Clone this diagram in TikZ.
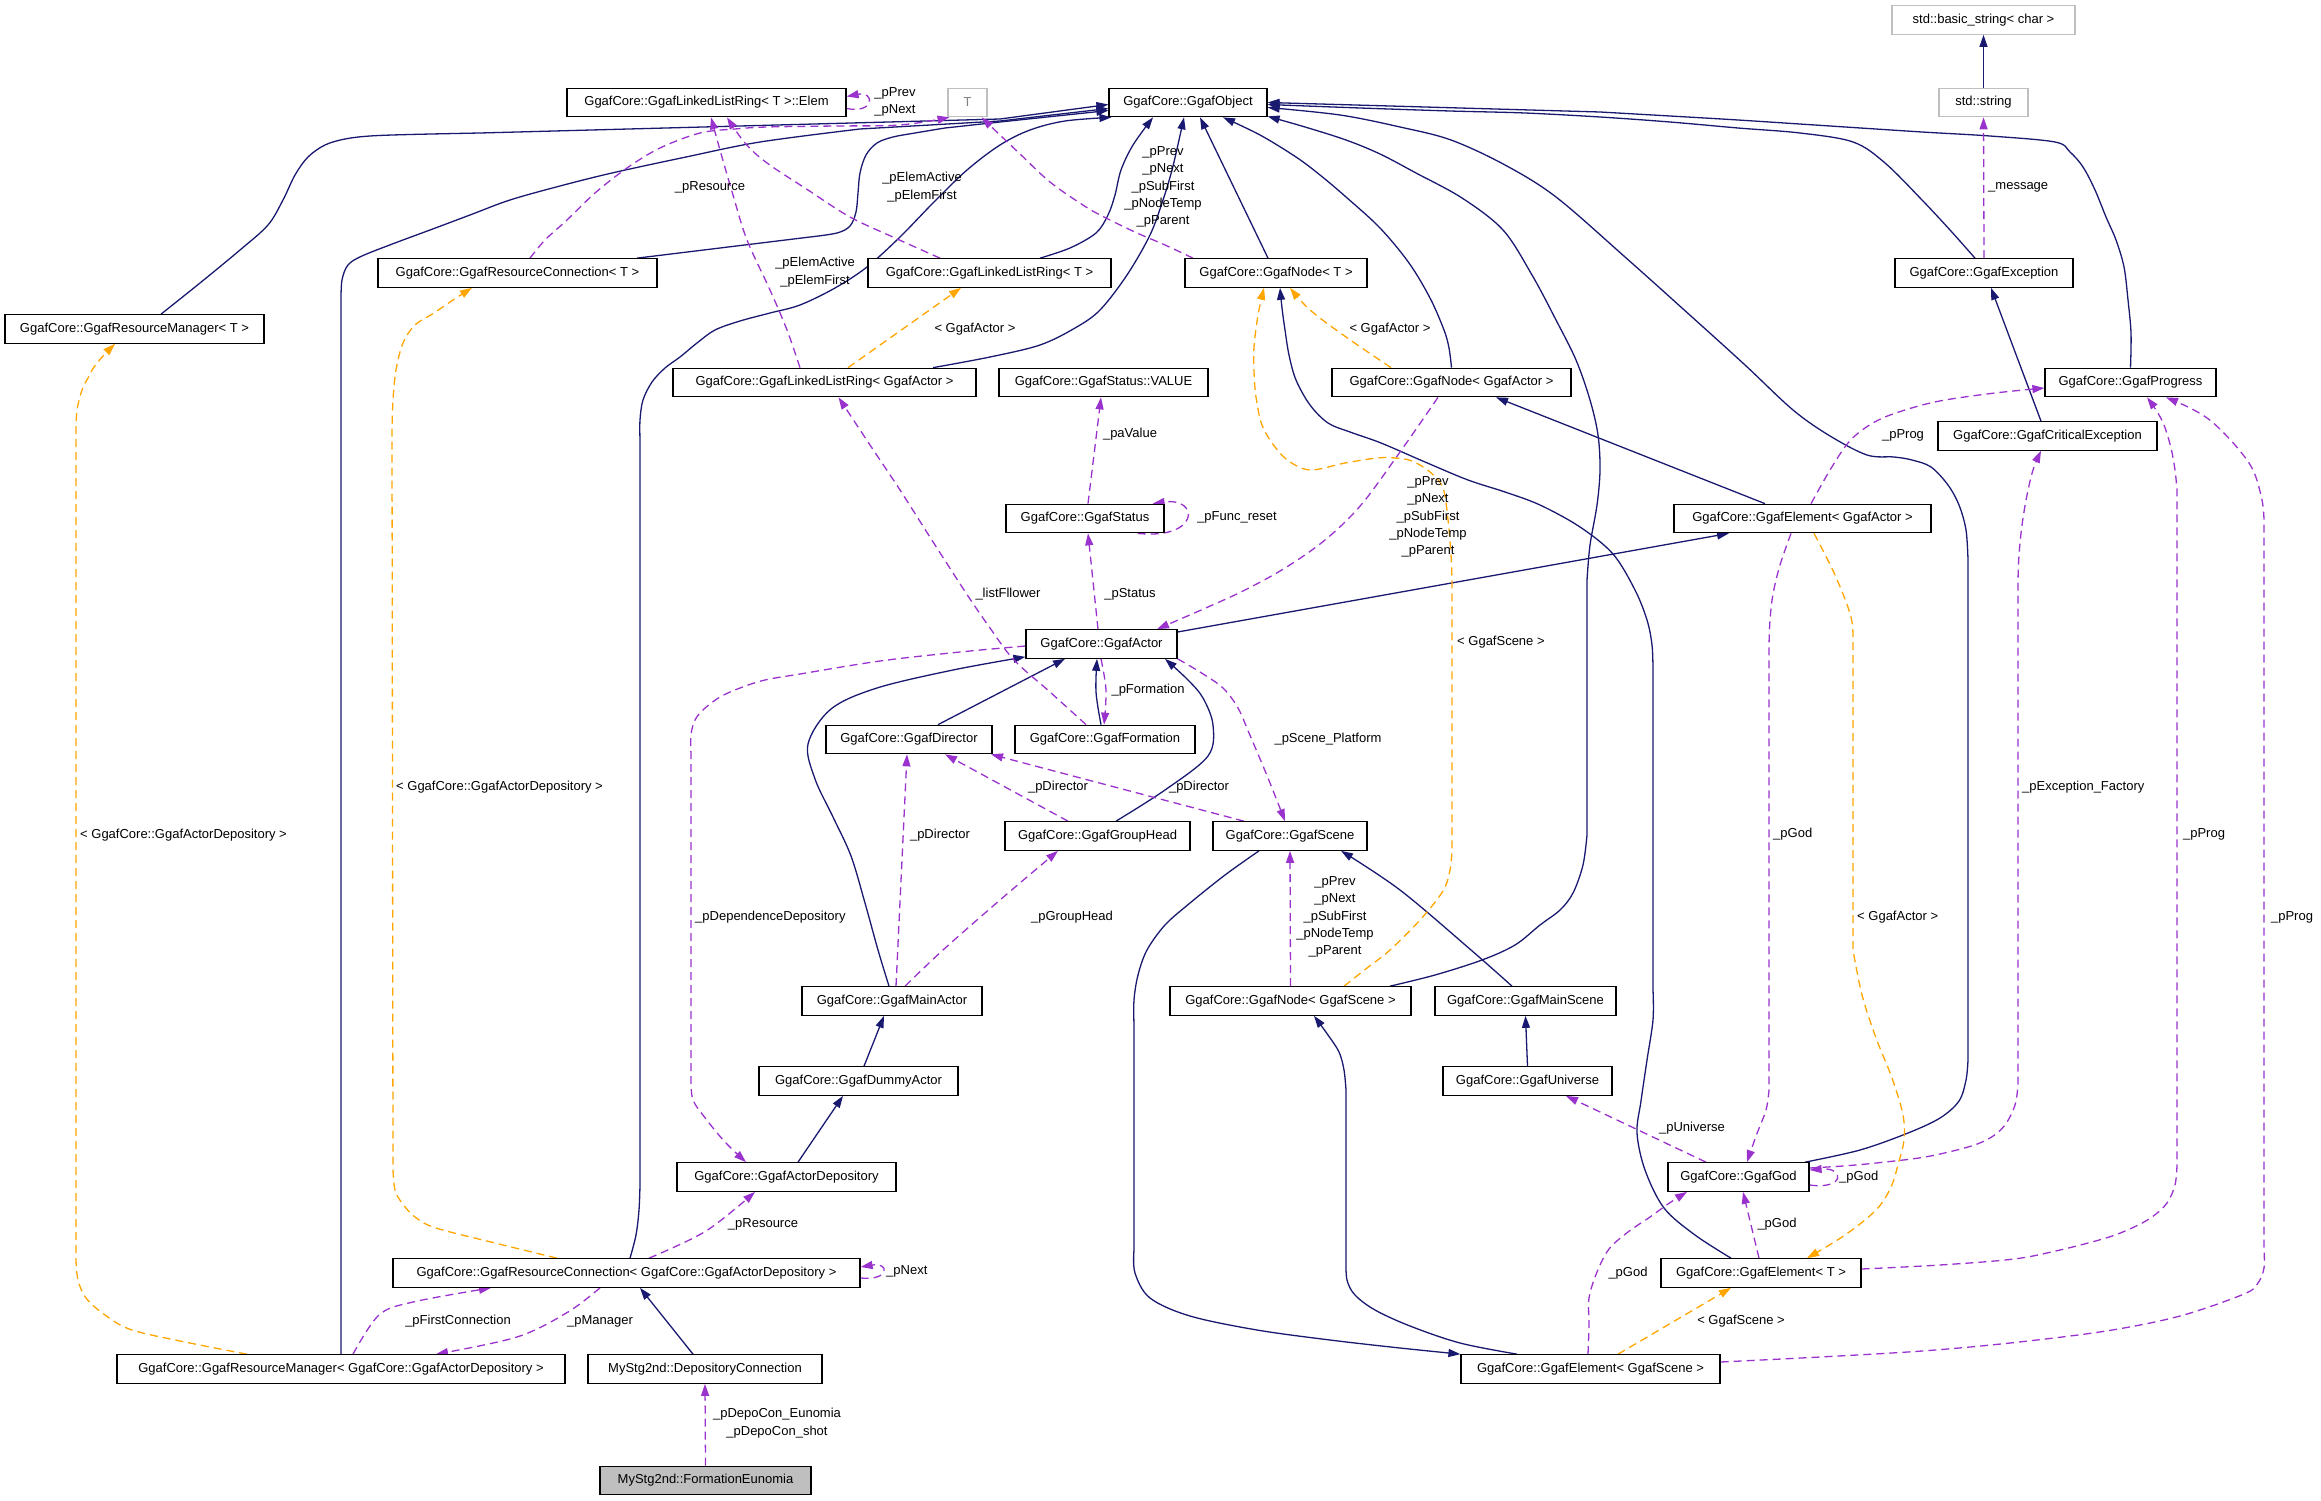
\documentclass[tikz,border=0pt]{standalone}
\usepackage{fontspec}
\setmainfont{Liberation Sans}
\usetikzlibrary{arrows.meta}
\definecolor{inhc}{HTML}{191970}
\definecolor{usec}{HTML}{9A32CD}
\definecolor{tplc}{HTML}{FFA500}
\definecolor{grayb}{HTML}{BFBFBF}
\newcommand{\nf}{\fontsize{13}{17.3}\selectfont}
\pgfdeclarelayer{bg}
\pgfsetlayers{bg,main}
\tikzset{
  box/.style={draw=black, line width=1.2pt, fill=white, inner sep=0pt, minimum height=28.5pt, font=\nf, text=black},
  gbox/.style={box, draw=grayb},
  inh/.style={draw=inhc, line width=1.3pt, -{Triangle[length=12pt,width=8pt]}},
  use/.style={draw=usec, line width=1.3pt, dash pattern=on 8pt off 5pt, -{Triangle[length=12pt,width=8pt]}},
  tpl/.style={draw=tplc, line width=1.3pt, dash pattern=on 8pt off 5pt, -{Triangle[length=12pt,width=8pt]}},
  lbl/.style={font=\nf, inner sep=1pt, align=center, text=black},
  sm/.style={smooth, tension=0.55}
}
\begin{document}
\begin{tikzpicture}[x=1pt,y=-1pt]
\useasboundingbox (0,0) rectangle (2321,1501);
% nodes
\node[box, minimum width=279pt] (Elem) at (706.5,102.5) {GgafCore::GgafLinkedListRing< T >::Elem};
\node[gbox, minimum width=39pt, text=gray] (T) at (967.5,102.5) {T};
\node[box, minimum width=158pt] (Obj) at (1188,102.5) {GgafCore::GgafObject};
\node[gbox, minimum width=183pt] (bstr) at (1983.5,20) {std::basic\_string< char >};
\node[gbox, minimum width=89pt] (str) at (1983.5,102.5) {std::string};
\node[box, minimum width=279pt] (RCT) at (517.5,273) {GgafCore::GgafResourceConnection< T >};
\node[box, minimum width=243pt] (LLRT) at (989.5,273) {GgafCore::GgafLinkedListRing< T >};
\node[box, minimum width=182pt] (NodeT) at (1276,273) {GgafCore::GgafNode< T >};
\node[box, minimum width=178pt] (Exc) at (1984,273) {GgafCore::GgafException};
\node[box, minimum width=259pt] (RMT) at (134.5,329) {GgafCore::GgafResourceManager< T >};
\node[box, minimum width=303pt] (LLRA) at (824.5,382.5) {GgafCore::GgafLinkedListRing< GgafActor >};
\node[box, minimum width=209pt] (SVAL) at (1103.5,382.5) {GgafCore::GgafStatus::VALUE};
\node[box, minimum width=239pt] (NodeA) at (1451.5,382.5) {GgafCore::GgafNode< GgafActor >};
\node[box, minimum width=171pt] (Prog) at (2130.5,382.5) {GgafCore::GgafProgress};
\node[box, minimum width=219pt] (Crit) at (2047.5,436) {GgafCore::GgafCriticalException};
\node[box, minimum width=158pt] (Status) at (1085,518.5) {GgafCore::GgafStatus};
\node[box, minimum width=257pt] (ElemA) at (1802.5,518.5) {GgafCore::GgafElement< GgafActor >};
\node[box, minimum width=151pt] (Actor) at (1101.5,644) {GgafCore::GgafActor};
\node[box, minimum width=166pt] (Dir) at (909,739.5) {GgafCore::GgafDirector};
\node[box, minimum width=180pt] (Form) at (1105,739.5) {GgafCore::GgafFormation};
\node[box, minimum width=185pt] (GH) at (1097.5,836) {GgafCore::GgafGroupHead};
\node[box, minimum width=154pt] (Scene) at (1290,836) {GgafCore::GgafScene};
\node[box, minimum width=180pt] (MA) at (892,1001) {GgafCore::GgafMainActor};
\node[box, minimum width=241pt] (NodeS) at (1290.5,1001) {GgafCore::GgafNode< GgafScene >};
\node[box, minimum width=181pt] (MS) at (1525.5,1001) {GgafCore::GgafMainScene};
\node[box, minimum width=199pt] (DA) at (858.5,1081) {GgafCore::GgafDummyActor};
\node[box, minimum width=169pt] (Univ) at (1527.5,1081) {GgafCore::GgafUniverse};
\node[box, minimum width=219pt] (AD) at (786.5,1177) {GgafCore::GgafActorDepository};
\node[box, minimum width=141pt] (God) at (1738.5,1177) {GgafCore::GgafGod};
\node[box, minimum width=467pt] (RCD) at (626.5,1273) {GgafCore::GgafResourceConnection< GgafCore::GgafActorDepository >};
\node[box, minimum width=200pt] (ElemT) at (1761,1273) {GgafCore::GgafElement< T >};
\node[box, minimum width=448pt] (RMD) at (341,1369) {GgafCore::GgafResourceManager< GgafCore::GgafActorDepository >};
\node[box, minimum width=234pt] (DC) at (705,1369) {MyStg2nd::DepositoryConnection};
\node[box, minimum width=259pt] (ElemS) at (1590.5,1369) {GgafCore::GgafElement< GgafScene >};
\node[box, minimum width=211pt, fill=grayb] (FE) at (705.5,1480.5) {MyStg2nd::FormationEunomia};

\begin{pgfonlayer}{bg}
% ---------- inheritance ----------
\draw[inh] plot[sm] coordinates {([xshift=26.5pt]RMT.north) (200,283) (240,250) (268,225) (283,200) (295,175) (308,157) (325,145) (345,139) (370,136) (410,134.5) (480,133)} -- (1000,119) -- ([yshift=-2pt]Obj.west);
\draw[inh] (RMD.north) -- (341,320) -- plot[sm] coordinates {(341,300) (342,280) (348,265) (362,256) (395,243) (430,230) (470,215) (510,200) (560,186) (612,173) (686,157) (760,142) (860,129)} -- (1000,121) -- ([yshift=-6pt]Obj.west);
\draw[inh] ([xshift=119.5pt]RCT.north) -- (810,237) -- plot[sm] coordinates {(810,237) (837,233) (850,226) (856,212) (858,193) (860,173) (866,155) (877,143) (893,137) (915,133) (945,128)} -- (1000,122) -- ([yshift=-8pt]Obj.west);
\draw[inh] plot[sm] coordinates {([xshift=3.5pt]RCD.north) (636,1235) (639,1210) (640,1185)} -- (640,440) -- plot[sm] coordinates {(640,440) (640,420) (643,400) (652,382) (665,368) (680,357) (697,343) (715,330) (740,321) (770,313) (800,305) (835,288) (867,267) (900,237) (933,203) (967,170) (1000,145) (1030,130) (1065,121) ([xshift=3pt]Obj.south west)};
\draw[inh] plot[sm] coordinates {([xshift=50.5pt]LLRT.north) (1070,248) (1096,233) (1108,215) (1115,195) (1121,170) (1133,145) ([xshift=-35pt]Obj.south)};
\draw[inh] plot[sm] coordinates {([xshift=108.5pt]LLRA.north) (990,357) (1040,345) (1075,328) (1100,310) (1127,275) (1150,235) (1163,200) (1172,170) (1179,140) ([xshift=-4pt]Obj.south)};
\draw[inh] ([xshift=-8pt]NodeT.north) -- ([xshift=12pt]Obj.south);
\draw[inh] plot[sm] coordinates {(NodeA.north) (1449,348) (1444,330) (1430,298) (1409,263) (1380,228) (1346,197) (1320,175) (1296,157) (1260,135) ([xshift=35pt]Obj.south)};
\draw[inh] plot[sm] coordinates {([xshift=99.5pt]NodeS.north) (1435,975) (1482,960) (1515,945) (1540,925) (1560,910) (1573,893) (1583,865) (1587,835)} -- (1587,580) -- plot[sm] coordinates {(1587,580) (1590,545) (1597,505) (1600,470) (1598,435) (1590,400) (1576,360) (1556,320) (1532,275) (1503,230) (1462,198) (1416,173) (1380,154) (1346,140) (1305,127) ([yshift=1pt]Obj.south east)};
\draw[inh] plot[sm] coordinates {([xshift=66.5pt]God.north) (1860,1150) (1908,1133) (1940,1118) (1959,1101) (1966,1080) (1968,1060)} -- (1968,560) -- plot[sm] coordinates {(1968,560) (1966,530) (1959,505) (1948,485) (1931,467) (1912,460) (1894,457) (1867,455) (1830,436) (1793,410) (1745,365) (1692,317) (1625,257) (1556,197) (1505,165) (1451,140) (1400,127) (1340,115) ([yshift=-5pt]Obj.east)};
\draw[inh] plot[sm] coordinates {([xshift=-9pt]Exc.north) (1950,230) (1922,200) (1885,163) (1853,142) (1800,133) (1738,128) (1670,122) (1600,117) (1525,113) (1450,111) (1360,108) ([yshift=-2pt]Obj.east)};
\draw[inh] plot[sm] coordinates {(Prog.north) (2131,333) (2128,300) (2124,267) (2116,240) (2106,217) (2095,190) (2083,167) (2070,152) (2055,142) (1990,136) (1922,132) (1830,126) (1738,120) (1670,116) (1600,112)} -- (Obj.east);
\draw[inh] (str.north) -- (bstr.south);
\draw[inh] ([xshift=-6.5pt]Crit.north) -- ([xshift=7pt]Exc.south);
\draw[inh] ([xshift=-37.5pt]ElemA.north) -- ([xshift=44.5pt]NodeA.south);
\draw[inh] ([yshift=12pt]Actor.east) -- ([xshift=-73.5pt]ElemA.south);
\draw[inh] ([xshift=29pt]Dir.north) -- ([xshift=-36.5pt]Actor.south);
\draw[inh] plot[sm] coordinates {([xshift=-4pt]Form.north) (1096,692) ([xshift=-4.5pt]Actor.south)};
\draw[inh] plot[sm] coordinates {([xshift=18.5pt]GH.north) (1165,790) (1208,756) (1213,725) (1203,698) (1188,680) ([xshift=63.5pt]Actor.south)};
\draw[inh] plot[sm] coordinates {([xshift=-3pt]MA.north) (878,950) (865,903) (851,856) (833,817) (815,779) (808,744) (831,709) (877,688) (953,670) ([yshift=2pt]Actor.south west)};
\draw[inh] ([xshift=5.5pt]DA.north) -- ([xshift=-8pt]MA.south);
\draw[inh] ([xshift=11.5pt]AD.north) -- ([xshift=-15.5pt]DA.south);
\draw[inh] ([xshift=-12pt]DC.north) -- ([xshift=13.5pt]RCD.south);
\draw[inh] plot[sm] coordinates {([xshift=-13.5pt]MS.north) (1471,950) (1400,890) ([xshift=51pt]Scene.south)};
\draw[inh] (Univ.north) -- (MS.south);
\draw[inh] plot[sm] coordinates {([xshift=-31pt]Scene.south) (1225,875) (1190,903) (1165,925) (1147,950) (1138,975) (1134,1000) (1134,1025)} -- (1134,1250) -- plot[sm] coordinates {(1134,1250) (1135,1273) (1150,1298) (1190,1316) (1257,1330) (1330,1340) (1400,1348) (ElemS.north west)};
\draw[inh] plot[sm] coordinates {([xshift=-73.5pt]ElemS.north) (1460,1343) (1410,1326) (1375,1310) (1355,1295) (1347,1280) (1346,1260)} -- (1346,1090) -- plot[sm] coordinates {(1346,1090) (1344,1070) (1339,1052) (1328,1035) ([xshift=23.5pt]NodeS.south)};
\draw[inh] plot[sm] coordinates {([xshift=-30pt]ElemT.north) (1695,1235) (1664,1208) (1645,1170) (1637,1133) (1641,1101) (1647,1060) (1653,1020) (1653,990)} -- (1653,670) -- plot[sm] coordinates {(1653,670) (1652,645) (1647,620) (1635,590) (1613,554) (1580,527) (1540,505) (1505,492) (1468,480) (1425,462) (1381,443) (1350,432) (1328,423) (1310,405) (1296,380) (1289,355) (1285,330) (1282,308) ([xshift=4pt]NodeT.south)};
% ---------- usage ----------
\draw[use] ([yshift=-6pt]Elem.east) .. controls (875,114) and (875,91) .. ([yshift=6pt]Elem.east);
\draw[use] plot[sm] coordinates {([xshift=12.5pt]RCT.north) (545,240) (567,220) (595,193) (627,168) (660,148) (700,133) (735,129) (767,127) (835,126) (900,125) ([xshift=-18pt]T.south)};
\draw[use] plot[sm] coordinates {([xshift=-49.5pt]LLRT.north) (895,238) (850,217) (808,190) (767,163) (745,143) ([xshift=20.5pt]Elem.south)};
\draw[use] plot[sm] coordinates {([xshift=-24.5pt]LLRA.north) (787,330) (770,290) (747,240) (733,195) (720,150) ([xshift=4.5pt]Elem.south)};
\draw[use] plot[sm] coordinates {([xshift=-83pt]NodeT.north) (1165,245) (1137,233) (1110,220) (1086,207) (1050,182) (1019,153) (1000,135) ([xshift=14pt]T.south)};
\draw[use] plot[sm] coordinates {([xshift=-19pt]Form.north) (1050,692) (1014,660) (990,628) (968,596) (935,545) (900,490) (870,445) ([xshift=14pt]LLRA.south)};
\draw[use] ([xshift=3pt]Status.north) -- ([xshift=-2.5pt]SVAL.south);
\draw[use] ([xshift=-27pt]Status.south east) .. controls (1200,540) and (1200,497) .. ([xshift=-12pt]Status.north east);
\draw[use] ([xshift=-3.5pt]Actor.north) -- ([xshift=3pt]Status.south);
\draw[use] plot[sm] coordinates {([xshift=-13.5pt]NodeA.south) (1400,452) (1361,505) (1325,540) (1285,568) (1245,590) (1208,607) ([xshift=55.5pt]Actor.north)};
\draw[use] plot[sm] coordinates {([xshift=-0.5pt]Actor.south) (1106,690) ([xshift=-1pt]Form.north)};
\draw[use] plot[sm] coordinates {(Actor.south east) (1200,672) (1223,688) (1238,708) (1249,733) (1268,778) ([xshift=-5pt]Scene.north)};
\draw[use] ([xshift=-29.5pt]GH.north) -- ([xshift=36pt]Dir.south);
\draw[use] ([xshift=-46pt]Scene.north) -- ([xshift=82pt]Dir.south);
\draw[use] ([xshift=4pt]MA.north) -- ([xshift=-2pt]Dir.south);
\draw[use] plot[sm] coordinates {([xshift=13pt]MA.north) (943,950) (1000,900) ([xshift=-39.5pt]GH.south)};
\draw[use] plot[sm] coordinates {([yshift=-2pt]Actor.west) (960,652) (880,661) (800,674) (765,680) (740,688) (720,697) (704,709) (695,720) (691,735) (691,755)} -- (691,1080) -- plot[sm] coordinates {(691,1080) (693,1100) (706,1119) (725,1142) ([xshift=-40.5pt]AD.north)};
\draw[use] plot[sm] coordinates {([xshift=22.5pt]RCD.north) (706,1231) ([xshift=-31.5pt]AD.south)};
\draw[use] ([yshift=-5pt]RCD.east) .. controls (890,1281) and (890,1262) .. ([yshift=6pt]RCD.east);
\draw[use] plot[sm] coordinates {([xshift=12pt]RMD.north) (379,1315) (413,1302) ([xshift=-135.5pt]RCD.south)};
\draw[use] plot[sm] coordinates {([xshift=-26.5pt]RCD.south) (568,1312) (517,1337) ([xshift=95pt]RMD.north)};
\draw[use] (FE.north) -- (DC.south);
\draw[use] (Exc.north) -- (str.south);
\draw[use] plot[sm] coordinates {([xshift=8.5pt]ElemA.north) (1830,470) (1848,443) (1865,428) (1885,417) (1915,407) (1945,400) (1995,393) ([yshift=-5.5pt]Prog.west)};
\draw[use] plot[sm] coordinates {([xshift=-11.5pt]ElemA.south) (1780,565) (1773,594) (1770,620) (1769,645)} -- (1769,1090) -- plot[sm] coordinates {(1769,1090) (1766,1110) (1756,1136) ([xshift=8.5pt]God.north)};
\draw[use] ([xshift=-2pt]ElemT.north) -- ([xshift=4.5pt]God.south);
\draw[use] ([yshift=-8pt]God.east) .. controls (1845,1190) and (1845,1167) .. ([yshift=7pt]God.east);
\draw[use] plot[sm] coordinates {([yshift=9pt]God.east) (1843,1166) (1876,1163) (1925,1157) (1968,1147) (1990,1138) (2005,1125) (2015,1105) (2018,1085)} -- (2018,580) -- plot[sm] coordinates {(2018,580) (2019,555) (2022,525) (2027,495) (2033,470) ([xshift=-6.5pt]Crit.south)};
\draw[use] plot[sm] coordinates {([yshift=4pt]ElemT.east) (1940,1265) (2014,1259) (2060,1250) (2106,1238) (2132,1228) (2152,1217) (2167,1203) (2175,1185) (2177,1165)} -- (2177,490) -- plot[sm] coordinates {(2177,490) (2175,470) (2171,448) (2164,425) (2156,410) ([xshift=16.5pt]Prog.south)};
\draw[use] plot[sm] coordinates {([yshift=7pt]ElemS.east) (1820,1357) (1922,1351) (2010,1343) (2106,1331) (2180,1316) (2244,1294) (2258,1283) (2264,1268) (2264,1250)} -- (2264,520) -- plot[sm] coordinates {(2264,520) (2262,500) (2253,470) (2235,445) (2211,421) (2190,408) ([xshift=35.5pt]Prog.south)};
\draw[use] ([xshift=-32.5pt]God.north) -- ([xshift=38.5pt]Univ.south);
\draw[use] plot[sm] coordinates {([xshift=-2.5pt]ElemS.north) (1589,1325) (1589,1298) (1597,1272) (1609,1249) (1628,1232) (1650,1217) (1668,1204) ([xshift=-51.5pt]God.south)};
\draw[use] (NodeS.north) -- (Scene.south);
% ---------- template ----------
\draw[tpl] plot[sm] coordinates {([xshift=-69.5pt]RCD.north) (495,1243) (436,1228) (415,1217) (402,1203) (395,1190) (393,1170)} -- (392,430) -- plot[sm] coordinates {(392,430) (393,400) (396,370) (403,343) (415,325) (434,313) (453,300) ([xshift=-45.5pt]RCT.south)};
\draw[tpl] plot[sm] coordinates {([xshift=-94pt]RMD.north) (190,1343) (132,1330) (105,1315) (86,1298) (78,1280) (76,1260)} -- (76,430) -- plot[sm] coordinates {(76,430) (77,410) (82,390) (88,378) (94,367) (104,355) ([xshift=-19.5pt]RMT.south)};
\draw[tpl] ([xshift=23.5pt]LLRA.north) -- ([xshift=-28.5pt]LLRT.south);
\draw[tpl] plot[sm] coordinates {([xshift=-60.5pt]NodeA.north) (1346,337) (1310,310) ([xshift=14pt]NodeT.south)};
\draw[tpl] plot[sm] coordinates {([xshift=53.5pt]NodeS.north) (1367,968) (1390,950) (1420,920) (1443,891) (1450,870) (1452,850)} -- (1452,580) -- plot[sm] coordinates {(1452,580) (1451,555) (1448,520) (1443,488) (1430,472) (1412,461) (1395,458) (1377,458) (1345,463) (1311,470) (1290,462) (1275,447) (1262,425) (1256,397) (1254,372) (1254,347) (1258,315) ([xshift=-12pt]NodeT.south)};
\draw[tpl] plot[sm] coordinates {([xshift=11.5pt]ElemA.south) (1835,575) (1851,617) (1853,645)} -- (1853,950) -- plot[sm] coordinates {(1853,950) (1862,995) (1876,1038) (1892,1078) (1903,1115) (1904,1140) (1899,1161) (1891,1187) (1876,1210) (1845,1235) ([xshift=46pt]ElemT.north)};
\draw[tpl] ([xshift=27.5pt]ElemS.north) -- ([xshift=-30pt]ElemT.south);
\end{pgfonlayer}

% labels
\node[lbl] (l1) at (895,102) {\_pPrev\\\_pNext};
\node[lbl] (l2) at (710,187) {\_pResource};
\node[lbl] (l3) at (922,187) {\_pElemActive\\\_pElemFirst};
\node[lbl] (l4) at (815,272) {\_pElemActive\\\_pElemFirst};
\node[lbl] (l5) at (1163,187) {\_pPrev\\\_pNext\\\_pSubFirst\\\_pNodeTemp\\\_pParent};
\node[lbl] (l6) at (1008,594) {\_listFllower};
\node[lbl] (l7) at (1130,434) {\_paValue};
\node[lbl] (l8) at (1237,517) {\_pFunc\_reset};
\node[lbl] (l9) at (1130,594) {\_pStatus};
\node[lbl] (l10) at (1428,517) {\_pPrev\\\_pNext\\\_pSubFirst\\\_pNodeTemp\\\_pParent};
\node[lbl] (l11) at (1148,690) {\_pFormation};
\node[lbl] (l12) at (1328,739) {\_pScene\_Platform};
\node[lbl] (l13) at (1058,787) {\_pDirector};
\node[lbl] (l14) at (1199,787) {\_pDirector};
\node[lbl] (l15) at (940,835) {\_pDirector};
\node[lbl] (l16) at (1072,917) {\_pGroupHead};
\node[lbl, anchor=west] (l17) at (694,917) {\_pDependenceDepository};
\node[lbl] (l18) at (763,1224) {\_pResource};
\node[lbl, anchor=west] (l19) at (885,1271) {\_pNext};
\node[lbl] (l20) at (458,1321) {\_pFirstConnection};
\node[lbl] (l21) at (600,1321) {\_pManager};
\node[lbl] (l22) at (777,1423) {\_pDepoCon\_Eunomia\\\_pDepoCon\_shot};
\node[lbl, anchor=west] (l23) at (1987,187) {\_message};
\node[lbl] (l24) at (1903,435) {\_pProg};
\node[lbl, anchor=west] (l25) at (1772,834) {\_pGod};
\node[lbl] (l26) at (1777,1224) {\_pGod};
\node[lbl, anchor=west] (l27) at (1838,1177) {\_pGod};
\node[lbl, anchor=west] (l28) at (2021,787) {\_pException\_Factory};
\node[lbl] (l29) at (2204,834) {\_pProg};
\node[lbl] (l30) at (2292,917) {\_pProg};
\node[lbl] (l31) at (1692,1128) {\_pUniverse};
\node[lbl] (l32) at (1628,1273) {\_pGod};
\node[lbl] (l33) at (1335,917) {\_pPrev\\\_pNext\\\_pSubFirst\\\_pNodeTemp\\\_pParent};
\node[lbl, anchor=west] (t1) at (395,787) {< GgafCore::GgafActorDepository >};
\node[lbl, anchor=west] (t2) at (79,835) {< GgafCore::GgafActorDepository >};
\node[lbl] (t3) at (975,329) {< GgafActor >};
\node[lbl] (t4) at (1390,329) {< GgafActor >};
\node[lbl, anchor=west] (t5) at (1456,642) {< GgafScene >};
\node[lbl, anchor=west] (t6) at (1856,917) {< GgafActor >};
\node[lbl] (t7) at (1741,1321) {< GgafScene >};
\end{tikzpicture}
\end{document}
